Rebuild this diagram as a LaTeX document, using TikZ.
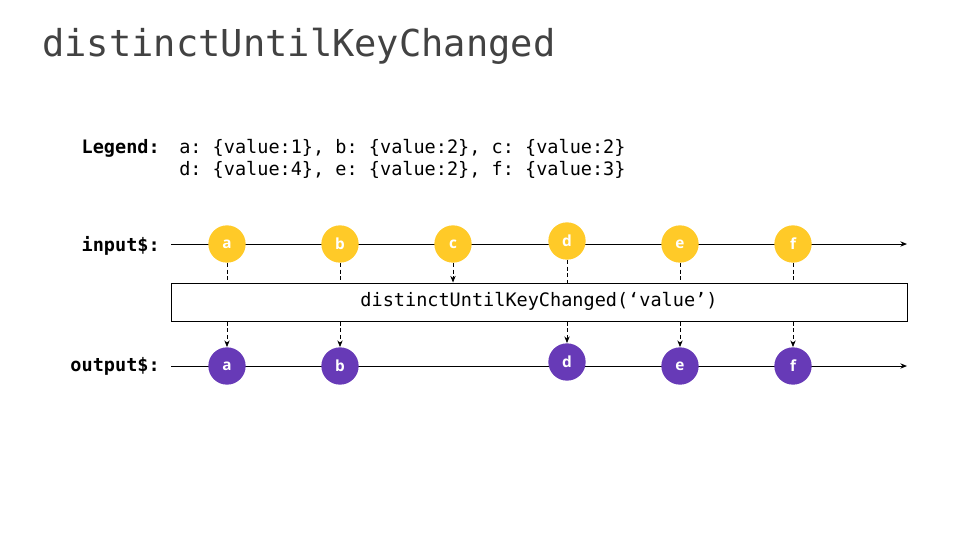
\documentclass[tikz,border=0pt]{standalone}
\usepackage{fontspec}
\setmainfont{Open Sans}
\setmonofont{DejaVu Sans Mono}
\usetikzlibrary{arrows.meta}
\definecolor{inyellow}{HTML}{FFCA28}
\definecolor{outpurple}{HTML}{673AB7}
\definecolor{titlegray}{HTML}{424242}
\tikzset{
  marble/.style={circle, minimum size=28pt, inner sep=0pt, text=white, font=\fontsize{11.5}{11.5}\selectfont\bfseries},
  inmarble/.style={marble, fill=inyellow},
  outmarble/.style={marble, fill=outpurple},
  timeline/.style={line width=0.75pt, -{Stealth[length=5pt,width=4pt]}},
  flow/.style={line width=0.6pt, dash pattern=on 3pt off 2pt},
  flowarrow/.style={flow, -{Stealth[length=5pt,width=4pt]}},
  monotext/.style={font=\fontsize{13.9}{17}\selectfont\ttfamily, inner sep=0pt},
  labeltext/.style={font=\fontsize{13.9}{17}\selectfont\ttfamily\bfseries, inner sep=0pt, anchor=east},
  opbox/.style={draw, line width=0.75pt, minimum width=552pt, minimum height=28.5pt, inner sep=0pt}
}
\begin{document}
\begin{tikzpicture}[x=0.75pt, y=-0.75pt]
\useasboundingbox (0,0) rectangle (960,540);
\node[anchor=west, inner sep=0pt, text=titlegray, font=\fontsize{27.8}{32}\selectfont\ttfamily] (title) at (42,46) {distinctUntilKeyChanged};

\node[labeltext] (legend) at (160,148) {Legend:};
\node[monotext, anchor=west, align=left] (legendtext) at (179,159) {a: \{value:1\}, b: \{value:2\}, c: \{value:2\}\\d: \{value:4\}, e: \{value:2\}, f: \{value:3\}};

\node[labeltext] (inlabel) at (160,246) {input\$:};
\node[labeltext] (outlabel) at (160,366) {output\$:};

\coordinate (instart) at (171,244);
\coordinate (inend) at (907,244);
\coordinate (outstart) at (171,366);
\coordinate (outend) at (907,366);
\draw[timeline] (instart) -- (inend);
\draw[timeline] (outstart) -- (outend);

\node[opbox] (op) at (539,302) {};
\node[monotext] (optext) at (539,301) {distinctUntilKeyChanged(‘value’)};

\node[inmarble] (ia) at (227,244) {a};
\node[inmarble] (ib) at (340,244) {b};
\node[inmarble] (ic) at (453,244) {c};
\node[inmarble] (id) at (567,241) {d};
\node[inmarble] (ie) at (680,244) {e};
\node[inmarble] (if) at (793,244) {f};

\node[outmarble] (oa) at (227,366) {a};
\node[outmarble] (ob) at (340,366) {b};
\node[outmarble] (od) at (567,362) {d};
\node[outmarble] (oe) at (680,366) {e};
\node[outmarble] (of) at (793,366) {f};

\foreach \m in {a,b,d,e,f} {
  \draw[flow] (i\m.south) -- (i\m.south |- op.north);
  \draw[flowarrow] (o\m.north |- op.south) -- (o\m.north);
}
\draw[flowarrow] (ic.south) -- (ic.south |- op.north);
\end{tikzpicture}
\end{document}
